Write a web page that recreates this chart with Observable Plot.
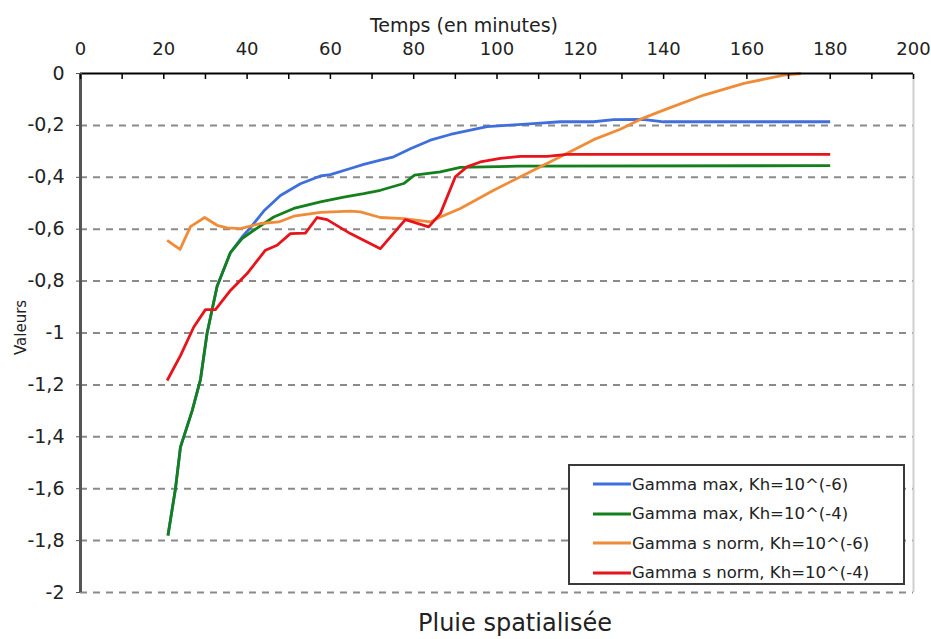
<!DOCTYPE html>
<html>
<head>
<meta charset="utf-8">
<script src="https://cdn.jsdelivr.net/npm/d3@7"></script>
<script src="https://cdn.jsdelivr.net/npm/@observablehq/plot@0.6"></script>
<style>
  body { margin: 0; background: #fff; }
  #wrap { position: relative; width: 931px; height: 639px; background: #fff; overflow: hidden; }
  #legend { position: absolute; left: 568px; top: 464px; width: 333px; height: 117px; border: 2px solid #3a3a3a; background: #fff; font-family: "DejaVu Sans", Verdana, sans-serif; font-size: 16.5px; color: #222; }
  .row { position: absolute; left: 0; height: 20px; display: flex; align-items: center; }
  .row svg { margin-left: 23px; }
  .row span { margin-left: 1px; white-space: nowrap; }
  #caption { position: absolute; left: 0; width: 1030px; top: 609px; text-align: center; font-family: "DejaVu Sans", Verdana, sans-serif; font-size: 24px; color: #222; }
</style>
</head>
<body>
<div id="wrap"></div>
<script>
// ---- data ----
const seriesNames = [
  "Gamma max, Kh=10^(-6)",
  "Gamma max, Kh=10^(-4)",
  "Gamma s norm, Kh=10^(-6)",
  "Gamma s norm, Kh=10^(-4)"
];
const seriesColors = ["#3f6fdc", "#13801c", "#f08c38", "#e8141c"];

const blueT = [21, 22.8, 24, 26.8, 28.8, 30.4, 32.8, 36, 38.8, 41, 44, 48, 52.8, 57.6, 60, 64.8, 68, 72, 75.2, 79.2, 84, 88.8, 93.6, 97.6, 103.2, 109.6, 115.2, 123.2, 128, 135, 140, 180];
const blueV = [-1.78, -1.6, -1.44, -1.3, -1.18, -1.0, -0.82, -0.69, -0.63, -0.59, -0.53, -0.47, -0.425, -0.395, -0.39, -0.366, -0.35, -0.334, -0.321, -0.29, -0.257, -0.235, -0.218, -0.205, -0.199, -0.192, -0.186, -0.186, -0.178, -0.177, -0.186, -0.186];

const greenT = [21, 22.8, 24, 26.8, 28.8, 30.4, 32.8, 36, 38.8, 41.6, 46.4, 51.2, 57.6, 63.2, 68, 72, 77.6, 80.2, 86.4, 91.2, 104.8, 180];
const greenV = [-1.78, -1.6, -1.44, -1.3, -1.18, -1.0, -0.82, -0.69, -0.636, -0.604, -0.553, -0.52, -0.495, -0.476, -0.463, -0.45, -0.424, -0.392, -0.379, -0.362, -0.357, -0.355];

const orangeT = [20.8, 23.9, 26.4, 29.8, 32.8, 35.2, 38.4, 43.2, 47.6, 51.2, 57.6, 64.8, 67.2, 72, 77.6, 84, 86.4, 91.2, 99.2, 107.2, 115.2, 123.2, 129.6, 134.5, 140, 149.7, 159.3, 168.9, 173];
const orangeV = [-0.643, -0.678, -0.59, -0.555, -0.585, -0.595, -0.598, -0.578, -0.572, -0.55, -0.535, -0.53, -0.533, -0.555, -0.559, -0.572, -0.553, -0.52, -0.45, -0.385, -0.321, -0.255, -0.215, -0.176, -0.141, -0.083, -0.038, -0.006, 0];

const redT = [20.8, 24, 27.2, 30, 32.4, 36, 40, 44.4, 47.2, 50.4, 54, 56.8, 59.2, 64.8, 72, 78, 83.6, 86.4, 90, 92.8, 96, 100.8, 105.6, 112, 116.8, 180];
const redV = [-1.183, -1.087, -0.977, -0.91, -0.91, -0.836, -0.771, -0.681, -0.662, -0.617, -0.615, -0.555, -0.563, -0.617, -0.675, -0.563, -0.591, -0.54, -0.398, -0.36, -0.341, -0.327, -0.319, -0.319, -0.312, -0.312];

const xTickLabels = [0, 20, 40, 60, 80, 100, 120, 140, 160, 180, 200];
const xMinorTicks = [0, 10, 20, 30, 40, 50, 60, 70, 80, 90, 100, 110, 120, 130, 140, 150, 160, 170, 180, 190, 200];
const yTickLabels = [0, -0.2, -0.4, -0.6, -0.8, -1, -1.2, -1.4, -1.6, -1.8, -2];
const yGridLines = [-0.2, -0.4, -0.6, -0.8, -1, -1.2, -1.4, -1.6, -1.8, -2];
const xTitle = ["Temps (en minutes)"];
const yTitle = ["Valeurs"];
const captionText = "Pluie spatialisée";

// ---- build table ----
const seriesT = [blueT, greenT, orangeT, redT];
const seriesV = [blueV, greenV, orangeV, redV];
const rows = [];
seriesNames.forEach((name, i) => {
  seriesT[i].forEach((t, j) => rows.push({series: name, t, v: seriesV[i][j]}));
});

const tickFont = '"DejaVu Sans", Verdana, sans-serif';
const fmt = d => String(d).replace(".", ",");

const chart = Plot.plot({
  width: 931,
  height: 600,
  marginTop: 73,
  marginLeft: 80,
  marginRight: 18,
  marginBottom: 8,
  style: {fontFamily: tickFont, fontSize: "18px", color: "#222", background: "#fff", overflow: "visible"},
  x: {domain: [0, 200], axis: null},
  y: {domain: [-2, 0], axis: null},
  color: {domain: seriesNames, range: seriesColors},
  marks: [
    Plot.ruleY(yGridLines, {stroke: "#8a8a8a", strokeWidth: 2, strokeDasharray: "7,6"}),
    Plot.ruleX([200], {stroke: "#cfcfcf", strokeWidth: 2}),
    Plot.line(rows, {x: "t", y: "v", z: "series", stroke: "series", strokeWidth: 2.8, strokeLinejoin: "round", strokeLinecap: "butt"}),
    Plot.ruleY([0], {stroke: "#000", strokeWidth: 2}),
    Plot.ruleX([0], {stroke: "#555", strokeWidth: 3}),
    Plot.axisX({anchor: "top", ticks: xMinorTicks, tickSize: -5, tickFormat: () => "", stroke: "#000", strokeWidth: 1.5, label: null}),
    Plot.axisX({anchor: "top", ticks: xTickLabels, tickSize: 0, tickPadding: 19, tickFormat: d => String(d), fontSize: 18, fill: "#222", label: null}),
    Plot.axisY({anchor: "left", ticks: yTickLabels, tickSize: 4, tickPadding: 12, tickFormat: fmt, fontSize: 19, fill: "#222", stroke: "#555", label: null}),
    Plot.text(xTitle, {frameAnchor: "top", dx: -33, dy: -55, fontSize: 19, fill: "#222", fontFamily: tickFont}),
    Plot.text(yTitle, {frameAnchor: "left", rotate: -90, dx: -59, dy: 22, fontSize: 15, fill: "#222", fontFamily: tickFont})
  ]
});

const wrap = document.getElementById("wrap");
chart.style.position = "absolute";
chart.style.left = "0px";
chart.style.top = "0px";
wrap.appendChild(chart);

// legend
const legend = document.createElement("div");
legend.id = "legend";
seriesNames.forEach((name, i) => {
  const r = document.createElement("div");
  r.className = "row";
  r.style.top = (8 + i * 29.5) + "px";
  r.innerHTML = `<svg width="38" height="6"><line x1="0" y1="3" x2="38" y2="3" stroke="${seriesColors[i]}" stroke-width="3"/></svg><span>${name}</span>`;
  legend.appendChild(r);
});
wrap.appendChild(legend);

const cap = document.createElement("div");
cap.id = "caption";
cap.textContent = captionText;
wrap.appendChild(cap);
</script>
</body>
</html>
